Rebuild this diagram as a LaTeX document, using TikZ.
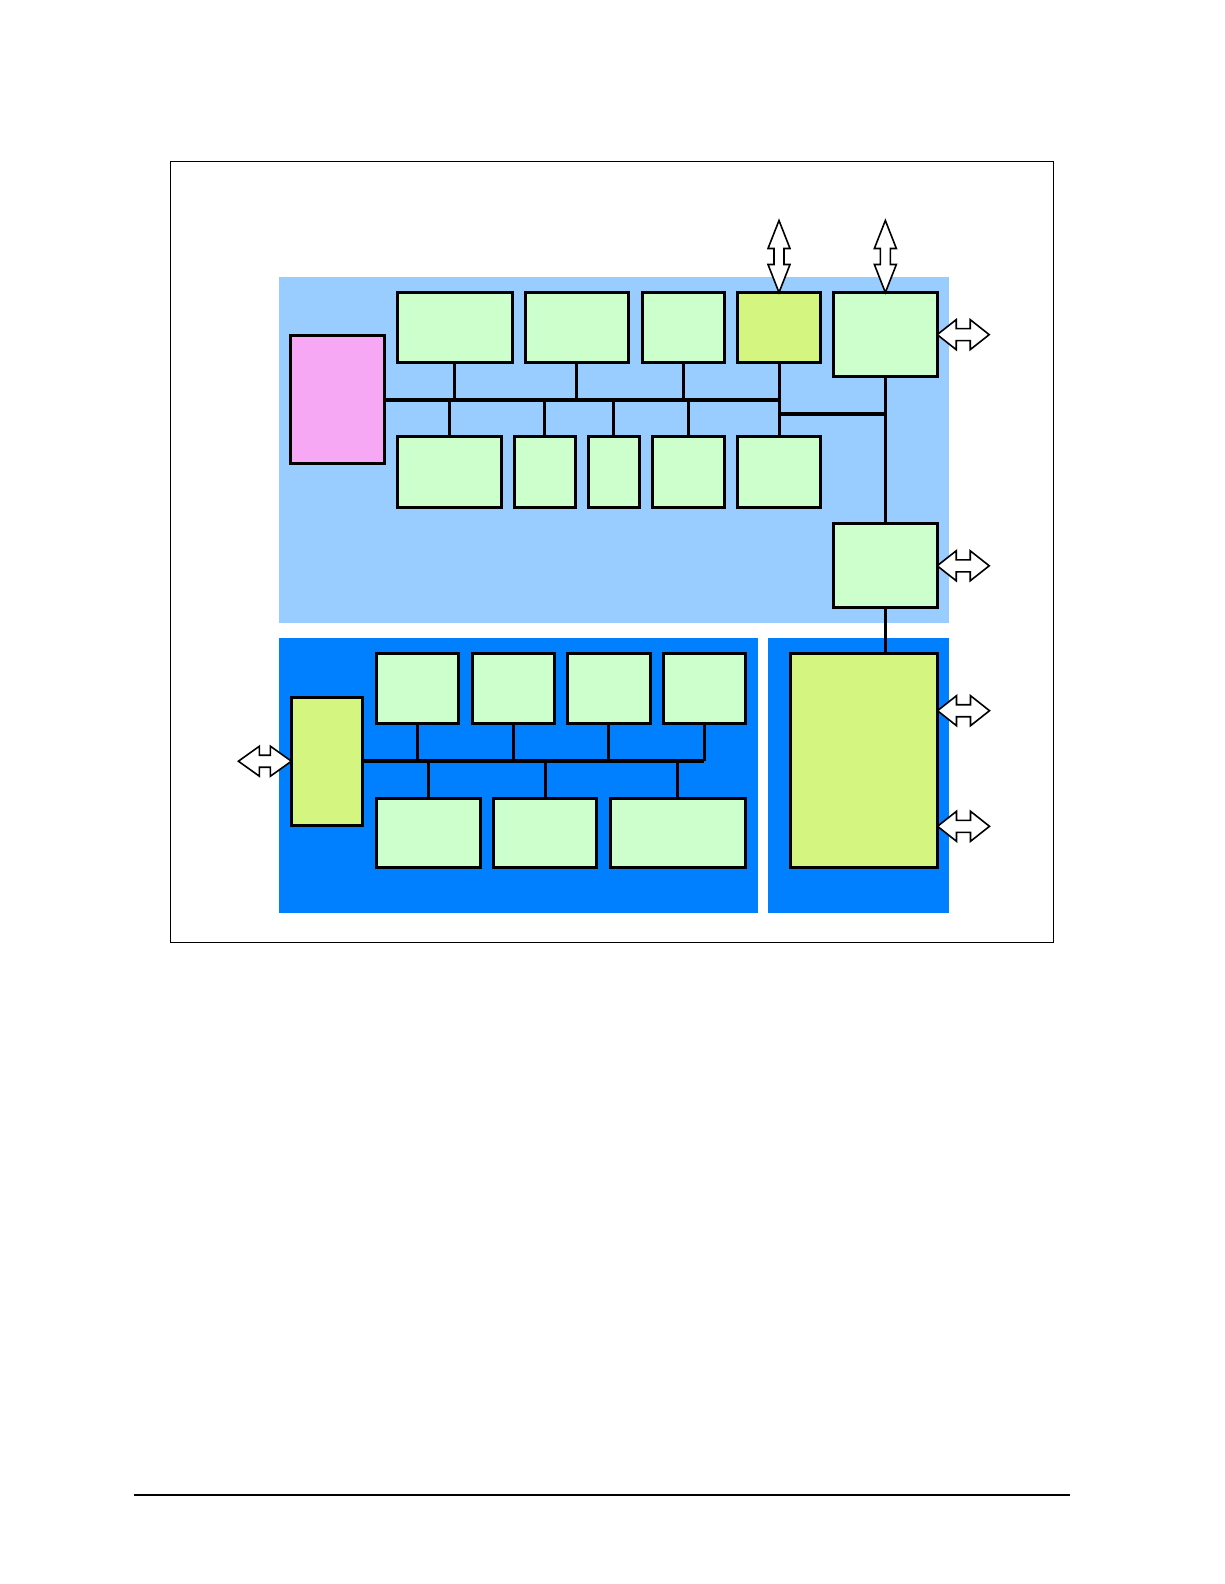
\documentclass[tikz,border=0pt]{standalone}
\usetikzlibrary{calc}
\definecolor{lightpanel}{RGB}{153,204,255}
\definecolor{darkpanel}{RGB}{0,128,255}
\definecolor{mint}{RGB}{204,255,204}
\definecolor{lime}{RGB}{212,245,128}
\definecolor{pinkbox}{RGB}{247,168,245}
\tikzset{
  box/.style={draw=black, line width=3pt, anchor=north west, inner sep=0pt, outer sep=0pt},
  stem/.style={line width=3pt},
  bus/.style={line width=4pt},
  blockarrow/.style={draw=black, fill=white, line width=1.6pt, line join=miter},
}
\newcommand\bx[6]{\node[box, fill=#6, minimum width={#4-#2-3}, minimum height={#5-#3-3}] (#1) at ({#2+1.5},{#3+1.5}) {};}
\begin{document}
\begin{tikzpicture}[x=1pt,y=-1pt]
\useasboundingbox[fill=white] (0,0) rectangle (1224,1584);
% frame and footer
\draw[line width=1pt] (170.3,161.3) rectangle (1053.7,942.3);
\draw[line width=1.3pt] (134,1495) -- (1069.5,1495);
% panels
\fill[lightpanel] (278.5,277) rectangle (949,623.3);
\fill[darkpanel] (278.5,638) rectangle (757.7,912.7);
\fill[darkpanel] (768,638) rectangle (949,912.7);
% upper boxes
\bx{pink}{289.3}{333.7}{385.7}{465.3}{pinkbox}
\bx{t1}{395.7}{291}{513.7}{364.3}{mint}
\bx{t2}{523.7}{291}{630}{364.3}{mint}
\bx{t3}{640.7}{291}{726}{364.3}{mint}
\bx{ylw}{736.3}{291}{821.7}{364.3}{lime}
\bx{rt}{832}{291}{938.7}{378.3}{mint}
\bx{b1}{395.7}{435}{503}{508.7}{mint}
\bx{b2}{512.7}{435}{576.7}{508.7}{mint}
\bx{b3}{586.7}{435}{641}{508.7}{mint}
\bx{b4}{651.3}{435}{726}{508.7}{mint}
\bx{b5}{736.3}{435}{821.7}{508.7}{mint}
\bx{rm}{832}{522.3}{938.7}{609.3}{mint}
% lower boxes
\bx{lyel}{289.9}{695.7}{364.3}{826.7}{lime}
\bx{c1}{374.6}{652}{460}{725.3}{mint}
\bx{c2}{471}{652}{555.7}{725.3}{mint}
\bx{c3}{566.1}{652}{651.8}{725.3}{mint}
\bx{c4}{661.8}{652}{746.9}{725.3}{mint}
\bx{d1}{374.6}{797}{481.7}{869}{mint}
\bx{d2}{492}{797}{598.4}{869}{mint}
\bx{d3}{608.8}{797}{746.9}{869}{mint}
\bx{big}{789.3}{652.3}{939}{869.3}{lime}
% upper connectors
\draw[bus] (pink.east) -- (pink.east -| ylw.south);
\foreach \t in {t1,t2,t3} {\draw[stem] (\t.south) -- (\t.south |- pink.east);}
\foreach \b in {b1,b2,b3,b4} {\draw[stem] (\b.north) -- (\b.north |- pink.east);}
\draw[stem] (ylw.south) -- (b5.north);
\coordinate (j) at (0,414);
\draw[bus] (ylw.south |- j) -- (rt.south |- j);
\draw[stem] (rt.south) -- (rm.north);
\draw[stem] (rm.south) -- (rm.south |- big.north);
% lower connectors
\draw[bus] (lyel.east) -- (lyel.east -| c4.south);
\foreach \c in {c1,c2,c3,c4} {\draw[stem] (\c.south) -- (\c.south |- lyel.east);}
\foreach \d in {d1,d2,d3} {\draw[stem] (\d.north) -- (\d.north |- lyel.east);}
% block arrows
\coordinate (a1) at (0,710.7);
\coordinate (a2) at (0,826.3);
\foreach \p in {rt.east, rm.east, big.east |- a1, big.east |- a2} {
  \draw[blockarrow] (\p) -- ++(19,-15) -- ++(0,9) -- ++(14,0) -- ++(0,-9) -- ++(19,15)
    -- ++(-19,15) -- ++(0,-9) -- ++(-14,0) -- ++(0,9) -- cycle;
}
\draw[blockarrow] (lyel.west) -- ++(-21,-15) -- ++(0,9) -- ++(-11,0) -- ++(0,-9) -- ++(-21,15)
    -- ++(21,15) -- ++(0,-9) -- ++(11,0) -- ++(0,9) -- cycle;
\foreach \p in {ylw.north, rt.north} {
  \draw[blockarrow] (\p) -- ++(-11,-28) -- ++(6,0) -- ++(0,-16) -- ++(-6,0) -- ++(11,-28)
    -- ++(11,28) -- ++(-6,0) -- ++(0,16) -- ++(6,0) -- cycle;
}
\end{tikzpicture}
\end{document}
